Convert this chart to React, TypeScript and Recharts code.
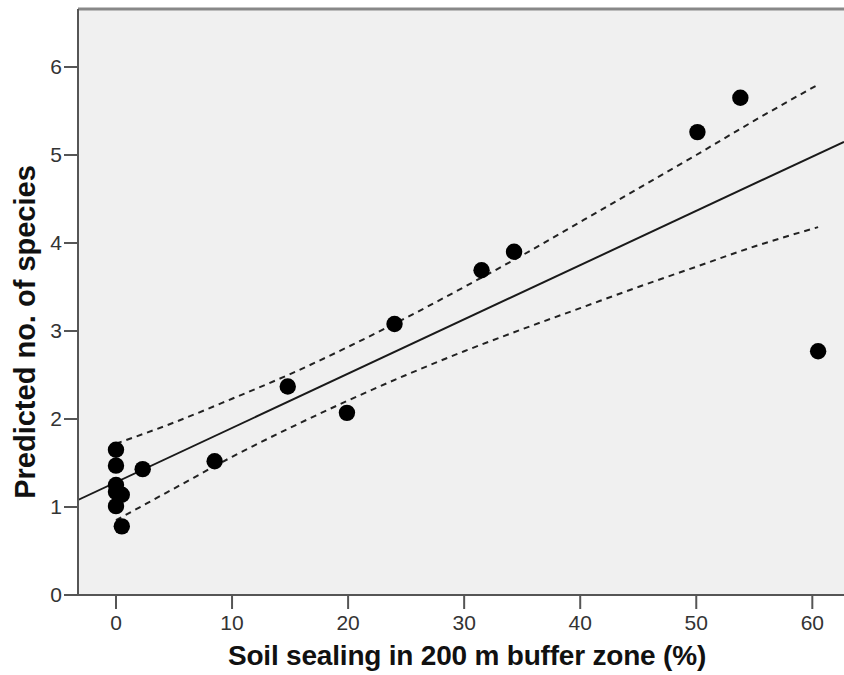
import React from 'react';
import { ComposedChart, XAxis, YAxis, Scatter, Line, ReferenceLine, ReferenceArea } from 'recharts';

// Observed points
const pointX = [0, 0, 0, 0, 0.5, 0, 0.5, 2.3, 8.5, 14.8, 19.9, 24.0, 31.5, 34.3, 50.1, 53.8, 60.5];
const pointY = [1.65, 1.47, 1.25, 1.17, 1.14, 1.01, 0.78, 1.43, 1.52, 2.37, 2.07, 3.08, 3.69, 3.90, 5.26, 5.65, 2.77];

// Regression line (spans the whole plot)
const fitX = [-3.27, 62.73];
const fitY = [1.08, 5.15];

// Confidence band (dashed)
const bandX = [0, 5, 10, 15, 20, 25, 30, 35, 40, 45, 50, 55, 60.5];
const upperY = [1.72, 1.96, 2.23, 2.51, 2.82, 3.15, 3.50, 3.86, 4.24, 4.62, 5.00, 5.39, 5.80];
const lowerY = [0.85, 1.21, 1.57, 1.90, 2.21, 2.50, 2.77, 3.02, 3.26, 3.50, 3.73, 3.96, 4.18];

const xTicks = [0, 10, 20, 30, 40, 50, 60];
const yTicks = [0, 1, 2, 3, 4, 5, 6];

const xTitle = 'Soil sealing in 200 m buffer zone (%)';
const yTitle = 'Predicted no. of species';

const X_DOMAIN: [number, number] = [-3.274, 62.73];
const Y_DOMAIN: [number, number] = [0, 6.659];

const points = pointX.map((x, i) => ({ x, y: pointY[i] }));
const fitData = fitX.map((x, i) => ({ x, y: fitY[i] }));
const upperData = bandX.map((x, i) => ({ x, y: upperY[i] }));
const lowerData = bandX.map((x, i) => ({ x, y: lowerY[i] }));

const FONT = '"Liberation Sans", Arial, sans-serif';
const tickStyle = { fontFamily: FONT, fontSize: 21, fill: '#333' };

const Dot = (props: any) => <circle cx={props.cx} cy={props.cy} r={8.2} fill="#000" />;

export default function App() {
  return (
    <div style={{ position: 'absolute', left: 0, top: 0, width: 844, height: 675, background: '#fff' }}>
      <ComposedChart width={844} height={675} margin={{ top: 9, right: 0, bottom: 0, left: 0 }}>
        <ReferenceArea
          x1={X_DOMAIN[0]}
          x2={X_DOMAIN[1]}
          y1={Y_DOMAIN[0]}
          y2={Y_DOMAIN[1]}
          fill="#f0f0f0"
          fillOpacity={1}
          stroke="none"
          ifOverflow="extendDomain"
        />
        <XAxis
          type="number"
          dataKey="x"
          domain={X_DOMAIN}
          allowDataOverflow
          ticks={xTicks}
          height={80}
          tickSize={14}
          tickMargin={6}
          tick={tickStyle}
          axisLine={{ stroke: '#555', strokeWidth: 2 }}
          tickLine={{ stroke: '#555', strokeWidth: 2 }}
          label={{
            content: (p: any) => {
              const vb = p.viewBox;
              return (
                <text
                  x={vb.x + vb.width / 2 + 6}
                  y={665}
                  textAnchor="middle"
                  fontFamily={FONT}
                  fontWeight="bold"
                  fontSize={28}
                  letterSpacing={-0.2}
                  fill="#111"
                >
                  {xTitle}
                </text>
              );
            },
          }}
        />
        <YAxis
          type="number"
          dataKey="y"
          domain={Y_DOMAIN}
          allowDataOverflow
          ticks={yTicks}
          width={78}
          tickSize={14}
          tickMargin={2}
          tick={tickStyle}
          axisLine={{ stroke: '#555', strokeWidth: 2 }}
          tickLine={{ stroke: '#555', strokeWidth: 2 }}
          label={{
            content: () => (
              <text
                x={35}
                y={332}
                transform="rotate(-90, 35, 332)"
                textAnchor="middle"
                fontFamily={FONT}
                fontWeight="bold"
                fontSize={29}
                fill="#111"
              >
                {yTitle}
              </text>
            ),
          }}
        />
        <ReferenceLine y={Y_DOMAIN[1]} stroke="#888" strokeWidth={3} />
        <Line
          data={upperData}
          dataKey="y"
          type="monotone"
          dot={false}
          stroke="#222"
          strokeWidth={2}
          strokeDasharray="6 5"
          isAnimationActive={false}
        />
        <Line
          data={lowerData}
          dataKey="y"
          type="monotone"
          dot={false}
          stroke="#222"
          strokeWidth={2}
          strokeDasharray="6 5"
          isAnimationActive={false}
        />
        <Line
          data={fitData}
          dataKey="y"
          type="linear"
          dot={false}
          stroke="#1a1a1a"
          strokeWidth={2}
          isAnimationActive={false}
        />
        <Scatter data={points} dataKey="y" shape={Dot} isAnimationActive={false} />
      </ComposedChart>
    </div>
  );
}
